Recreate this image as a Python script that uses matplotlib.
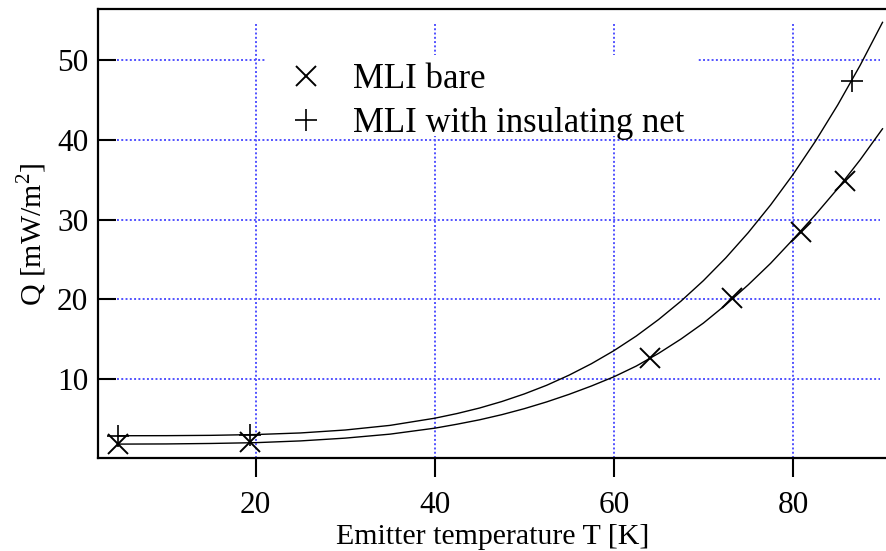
import matplotlib
matplotlib.use('Agg')
import matplotlib.pyplot as plt
from matplotlib.patches import Rectangle

# measured points
bare_T = [4.65, 19.4, 64.05, 73.2, 80.85, 85.8]
bare_Q = [1.8, 2.05, 12.6, 20.15, 28.5, 34.9]
net_T = [4.65, 19.4, 86.6]
net_Q = [2.8, 3.0, 47.4]

# fit curves
fit_T = [4.6, 10, 15, 20, 25, 30, 35, 40, 42.5, 45, 47.5, 50, 52.5, 55, 57.5, 60,
         62.5, 65, 67.5, 70, 72.5, 75, 77.5, 80, 82.5, 85, 87.5, 90]
fit_bare = [1.8, 1.82, 1.88, 1.98, 2.2, 2.55, 3.05, 3.8, 4.3, 4.85, 5.5, 6.25, 7.1, 8.05,
            9.1, 10.25, 11.6, 13.2, 15.0, 17.0, 19.3, 21.8, 24.5, 27.5, 30.6, 33.9, 37.5, 41.4]
fit_net = [2.85, 2.86, 2.9, 3.0, 3.2, 3.57, 4.15, 5.05, 5.64, 6.33, 7.15, 8.1, 9.19, 10.46,
           11.9, 13.53, 15.37, 17.45, 19.76, 22.33, 25.19, 28.35, 31.83, 35.65, 39.83,
           44.4, 49.37, 54.77]

x_ticks = [20, 40, 60, 80]
y_ticks = [10, 20, 30, 40, 50]

plt.rcParams['font.family'] = ['Liberation Serif', 'DejaVu Serif']
plt.rcParams['mathtext.fontset'] = 'custom'
plt.rcParams['mathtext.rm'] = 'Liberation Serif'

fig = plt.figure(figsize=(8.87, 5.51), dpi=100)
ax = fig.add_axes([0.1105, 0.168, 0.8895, 0.815])

grid_color = '#5252ff'
grid_ls = (0, (1.0, 1.2))
for t in x_ticks:
    ax.axvline(t, ymin=0, ymax=0.971, color=grid_color, ls=grid_ls, lw=1.4, zorder=1)
for q in y_ticks:
    ax.axhline(q, xmin=0.024, xmax=0.991, color=grid_color, ls=grid_ls, lw=1.4, zorder=1)

# white box behind the legend hides the grid there
ax.add_patch(Rectangle((0.213, 0.718), 0.546, 0.18, transform=ax.transAxes,
                       facecolor='white', edgecolor='none', zorder=2))

ax.plot(fit_T, fit_bare, color='black', lw=1.0, zorder=3)
ax.plot(fit_T, fit_net, color='black', lw=1.0, zorder=3)
ax.plot(bare_T, bare_Q, ls='none', marker='x', ms=15, mew=1.4, color='black',
        label='MLI bare', zorder=4)
ax.plot(net_T, net_Q, ls='none', marker='+', ms=16, mew=1.2, color='black',
        label='MLI with insulating net', zorder=4)

ax.set_xlim(2.4, 90.5)
ax.set_ylim(0, 56.4)
ax.set_xticks(x_ticks)
ax.set_yticks(y_ticks)
ax.tick_params(axis='x', direction='out', length=13.5, width=1.5, labelsize=22.5, pad=10)
ax.tick_params(axis='y', direction='in', length=13, width=1.5, labelsize=22.5, pad=7)
for side in ['left', 'top', 'bottom']:
    ax.spines[side].set_linewidth(1.6)
ax.spines['right'].set_visible(False)

ax.set_xlabel('Emitter temperature T [K]', fontsize=21.5, labelpad=3)
ax.set_ylabel('Q [mW/m$^2$]', fontsize=21.5, labelpad=6)

leg = ax.legend(loc='upper left', bbox_to_anchor=(0.213, 0.888), fontsize=25,
                frameon=False, handlelength=2.1, handletextpad=0.3,
                borderpad=0.1, labelspacing=0.32, borderaxespad=0)
leg.set_zorder(5)

fig.savefig('out.png', dpi=100)
plt.close(fig)
